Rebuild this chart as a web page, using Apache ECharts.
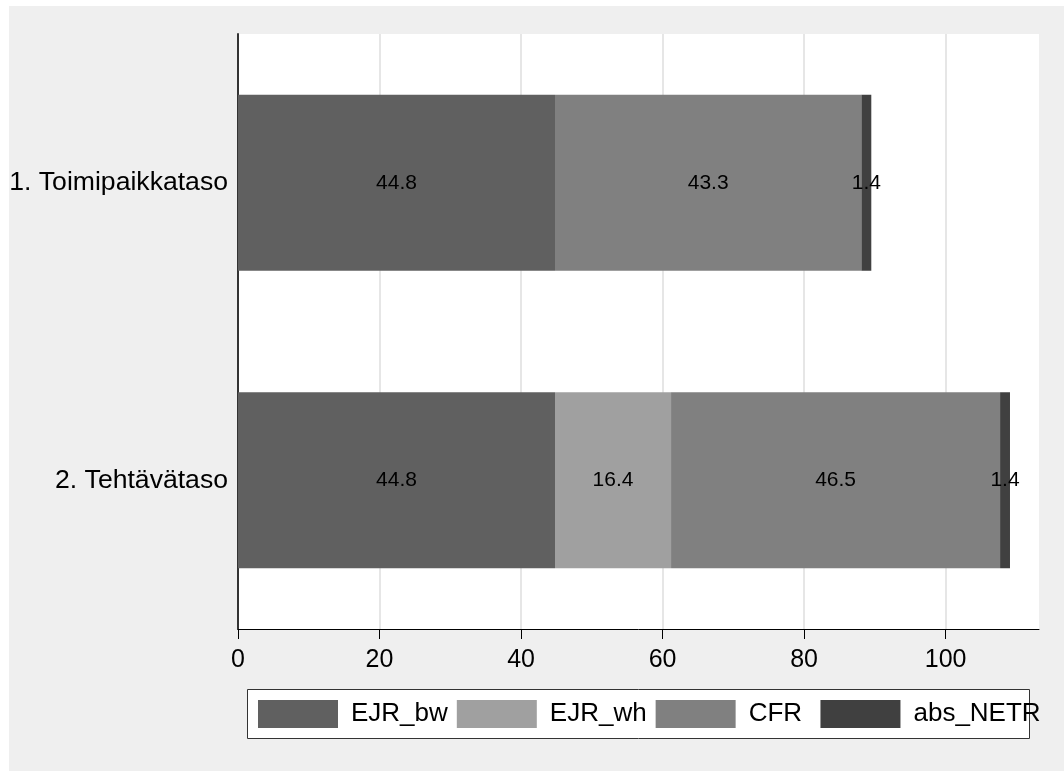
<!DOCTYPE html>
<html>
<head>
<meta charset="utf-8">
<script src="https://cdn.jsdelivr.net/npm/echarts@6/dist/echarts.min.js"></script>
<style>
html,body{margin:0;padding:0;background:#ffffff;}
#bg{position:absolute;left:9px;top:6px;right:0;bottom:0;background:#efefef;}
#chart{position:absolute;left:0;top:0;width:1064px;height:771px;}
</style>
</head>
<body>
<div id="bg"></div>
<div id="chart"></div>
<script>
const categories = ['1. Toimipaikkataso', '2. Tehtävätaso'];
const seriesNames = ['EJR_bw', 'EJR_wh', 'CFR', 'abs_NETR'];
const EJR_bw = [44.8, 44.8];
const EJR_wh = [0, 16.4];
const CFR = [43.3, 46.5];
const abs_NETR = [1.4, 1.4];
const xTicks = [0, 20, 40, 60, 80, 100];
const colors = ['#606060', '#a0a0a0', '#808080', '#404040'];

const values = [EJR_bw, EJR_wh, CFR, abs_NETR];
const font = 'Liberation Sans, Arial, sans-serif';

const chart = echarts.init(document.getElementById('chart'), null, {renderer: 'canvas'});
chart.setOption({
  backgroundColor: 'transparent',
  animation: false,
  textStyle: {fontFamily: font},
  grid: {
    left: 238, right: 25, top: 34, bottom: 142,
    show: true, backgroundColor: '#ffffff', borderWidth: 0
  },
  graphic: [{
    type: 'rect',
    shape: {x: 247.5, y: 689.5, width: 782, height: 49},
    style: {fill: '#ffffff', stroke: '#333333', lineWidth: 1},
    z: 1
  }],
  legend: {
    left: 258, top: 700, padding: 0,
    itemWidth: 80, itemHeight: 28, itemGap: 9,
    icon: 'rect',
    data: seriesNames,
    formatter: n => (n === 'CFR' ? n + ' \u200A' : n),
    textStyle: {fontSize: 26, color: '#000000', fontFamily: font, padding: [0, 0, 0, 8]},
    z: 5
  },
  xAxis: {
    type: 'value', min: 0, max: 113.2, interval: 20,
    axisLine: {show: true, lineStyle: {color: '#000000', width: 1}},
    axisTick: {show: true, length: 10, lineStyle: {color: '#000000'}, customValues: xTicks},
    axisLabel: {fontSize: 25, color: '#000000', margin: 19, fontFamily: font, customValues: xTicks},
    splitLine: {show: true, lineStyle: {color: '#e6e6e6', width: 2}}
  },
  yAxis: {
    type: 'category', data: categories, inverse: true,
    axisLine: {show: true, lineStyle: {color: '#333333', width: 2}},
    axisTick: {show: false},
    axisLabel: {fontSize: 26.6, color: '#000000', margin: 10, fontFamily: font},
    splitLine: {show: false}
  },
  series: seriesNames.map((name, i) => ({
    name: name,
    type: 'bar',
    stack: 'total',
    barWidth: 176,
    data: values[i],
    itemStyle: {color: colors[i]},
    label: {
      show: true, position: 'inside', color: '#000000', fontSize: 21, fontFamily: font,
      formatter: p => (p.value ? p.value.toFixed(1) : '')
    }
  }))
});
</script>
</body>
</html>
